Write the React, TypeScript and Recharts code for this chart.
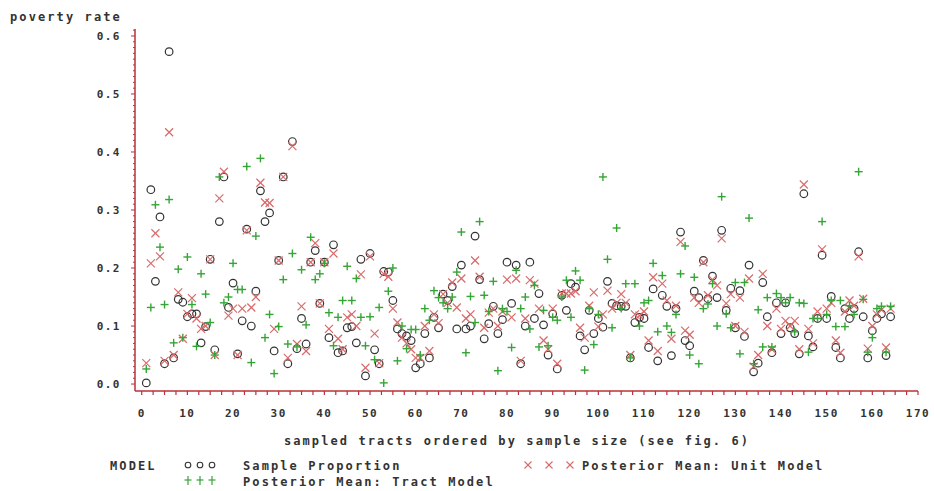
import { ScatterChart, Scatter, XAxis, YAxis } from "recharts"

// sampled tracts, ordered by sample size (x = position in that order)
const sampleProportion = [
  0.002, 0.335, 0.177, 0.288, 0.035, 0.573, 0.045, 0.146, 0.141, 0.116,
  0.121, 0.121, 0.071, 0.099, 0.215, 0.059, 0.28, 0.357, 0.132, 0.174,
  0.052, 0.109, 0.267, 0.1, 0.16, 0.333, 0.28, 0.295, 0.057, 0.213,
  0.357, 0.035, 0.418, 0.061, 0.113, 0.069, 0.21, 0.23, 0.139, 0.21,
  0.08, 0.24, 0.054, 0.057, 0.097, 0.099, 0.071, 0.215, 0.014, 0.225,
  0.059, 0.035, 0.194, 0.193, 0.144, 0.095, 0.087, 0.083, 0.075, 0.028,
  0.035, 0.087, 0.045, 0.115, 0.097, 0.155, 0.144, 0.168, 0.095, 0.205,
  0.095, 0.1, 0.255, 0.18, 0.078, 0.104, 0.134, 0.087, 0.111, 0.21,
  0.139, 0.205, 0.035, 0.1, 0.21, 0.113, 0.156, 0.102, 0.05, 0.121,
  0.026, 0.153, 0.127, 0.173, 0.167, 0.083, 0.059, 0.127, 0.087, 0.113,
  0.098, 0.177, 0.139, 0.135, 0.134, 0.134, 0.045, 0.106, 0.115, 0.113,
  0.063, 0.164, 0.04, 0.153, 0.134, 0.049, 0.13, 0.262, 0.075, 0.066,
  0.16, 0.149, 0.213, 0.147, 0.186, 0.149, 0.265, 0.127, 0.165, 0.097,
  0.161, 0.082, 0.205, 0.021, 0.036, 0.175, 0.116, 0.054, 0.14, 0.087,
  0.14, 0.097, 0.087, 0.052, 0.328, 0.083, 0.064, 0.113, 0.222, 0.113,
  0.151, 0.063, 0.045, 0.13, 0.113, 0.13, 0.228, 0.116, 0.045, 0.092,
  0.113, 0.121, 0.049, 0.116,
]
const unitModel = [
  0.036, 0.208, 0.26, 0.22, 0.04, 0.434, 0.05, 0.158, 0.078, 0.121,
  0.148, 0.113, 0.095, 0.1, 0.215, 0.05, 0.32, 0.366, 0.118, 0.13,
  0.05, 0.13, 0.265, 0.132, 0.15, 0.347, 0.313, 0.312, 0.095, 0.213,
  0.357, 0.045, 0.41, 0.069, 0.134, 0.057, 0.21, 0.243, 0.139, 0.21,
  0.095, 0.225, 0.078, 0.06, 0.115, 0.12, 0.1, 0.189, 0.028, 0.22,
  0.087, 0.036, 0.19, 0.185, 0.13, 0.106, 0.08, 0.07, 0.06, 0.045,
  0.045, 0.1, 0.057, 0.12, 0.105, 0.155, 0.14, 0.175, 0.132, 0.182,
  0.113, 0.12, 0.213, 0.185, 0.097, 0.123, 0.13, 0.1, 0.125, 0.18,
  0.115, 0.182, 0.04, 0.113, 0.179, 0.173, 0.13, 0.075, 0.06, 0.13,
  0.035, 0.156, 0.156, 0.156, 0.16, 0.097, 0.08, 0.135, 0.158, 0.099,
  0.12, 0.161, 0.13, 0.14, 0.155, 0.14, 0.05, 0.12, 0.118, 0.125,
  0.075, 0.184, 0.057, 0.173, 0.144, 0.078, 0.135, 0.245, 0.092, 0.085,
  0.149, 0.14, 0.21, 0.153, 0.18, 0.17, 0.251, 0.139, 0.155, 0.1,
  0.149, 0.09, 0.182, 0.03, 0.05, 0.19, 0.1, 0.06, 0.13, 0.095,
  0.109, 0.1, 0.109, 0.06, 0.344, 0.095, 0.07, 0.125, 0.232, 0.13,
  0.14, 0.075, 0.054, 0.125, 0.144, 0.135, 0.22, 0.147, 0.061, 0.1,
  0.12, 0.128, 0.063, 0.13,
]
const tractModel = [
  0.026, 0.132, 0.309, 0.236, 0.137, 0.318, 0.071, 0.198, 0.08, 0.219,
  0.137, 0.065, 0.19, 0.155, 0.106, 0.05, 0.357, 0.14, 0.15, 0.208,
  0.163, 0.163, 0.375, 0.037, 0.255, 0.389, 0.08, 0.12, 0.018, 0.099,
  0.18, 0.069, 0.225, 0.064, 0.197, 0.102, 0.253, 0.18, 0.19, 0.208,
  0.123, 0.066, 0.115, 0.144, 0.203, 0.144, 0.182, 0.115, 0.066, 0.116,
  0.042, 0.132, 0.002, 0.16, 0.2, 0.04, 0.1, 0.061, 0.094, 0.094,
  0.05, 0.13, 0.11, 0.161, 0.149, 0.14, 0.13, 0.15, 0.193, 0.262,
  0.054, 0.151, 0.106, 0.28, 0.153, 0.125, 0.177, 0.023, 0.13, 0.125,
  0.063, 0.196, 0.13, 0.15, 0.095, 0.17, 0.064, 0.127, 0.066, 0.115,
  0.11, 0.15, 0.179, 0.115, 0.195, 0.179, 0.024, 0.13, 0.068, 0.12,
  0.357, 0.215, 0.097, 0.269, 0.13, 0.173, 0.045, 0.173, 0.1, 0.14,
  0.144, 0.208, 0.09, 0.187, 0.1, 0.089, 0.12, 0.19, 0.238, 0.05,
  0.184, 0.035, 0.13, 0.138, 0.173, 0.1, 0.323, 0.121, 0.097, 0.175,
  0.052, 0.175, 0.286, 0.035, 0.128, 0.064, 0.149, 0.064, 0.156, 0.149,
  0.14, 0.149, 0.09, 0.14, 0.139, 0.055, 0.113, 0.113, 0.28, 0.12,
  0.144, 0.099, 0.144, 0.099, 0.135, 0.12, 0.366, 0.146, 0.055, 0.08,
  0.13, 0.134, 0.055, 0.134,
]

const xTicks = Array.from({ length: 69 }, (_, i) => i * 2.5)
const yTicks = Array.from({ length: 62 }, (_, i) => i / 100)

const AXIS = "#b8323a"
const FONT = "'DejaVu Sans Mono', monospace"

const rows = (vals: number[]) => vals.map((v, i) => ({ x: i + 1, y: v }))

const Ring = (p: any) => <circle cx={p.cx} cy={p.cy} r={3.8} fill="none" stroke="#333" strokeWidth={1.2} />
const Cross = (p: any) => (
  <g stroke="#d86a6a" strokeWidth={1.2}>
    <line x1={p.cx - 4} y1={p.cy - 4} x2={p.cx + 4} y2={p.cy + 4} />
    <line x1={p.cx - 4} y1={p.cy + 4} x2={p.cx + 4} y2={p.cy - 4} />
  </g>
)
const Plus = (p: any) => (
  <g stroke="#35a535" strokeWidth={1.4}>
    <line x1={p.cx - 4} y1={p.cy} x2={p.cx + 4} y2={p.cy} />
    <line x1={p.cx} y1={p.cy - 4} x2={p.cx} y2={p.cy + 4} />
  </g>
)

function XTick(p: any) {
  const v = p.payload.value
  return (
    <g>
      <line x1={p.x} y1={391} x2={p.x} y2={395} stroke={AXIS} strokeWidth={1.2} />
      {v % 10 === 0 && (
        <text x={p.x} y={417} textAnchor="middle" fontFamily={FONT} fontWeight="bold" fontSize={11} letterSpacing={1.5} fill="#333">
          {v}
        </text>
      )}
    </g>
  )
}

function YTick(p: any) {
  const v = p.payload.value
  const major = Math.round(v * 100) % 10 === 0
  return (
    <g>
      <line x1={major ? 131 : 133} y1={p.y} x2={135} y2={p.y} stroke={AXIS} strokeWidth={1} />
      {major && (
        <text x={121} y={p.y + 4} textAnchor="end" fontFamily={FONT} fontWeight="bold" fontSize={11} letterSpacing={1.5} fill="#333">
          {v.toFixed(1)}
        </text>
      )}
    </g>
  )
}

const label = { fontFamily: FONT, fontWeight: "bold" as const, fontSize: 12, letterSpacing: 2.1, fill: "#333" }

export default function App() {
  return (
    <div style={{ position: "absolute", left: 0, top: 0, width: 934, height: 491, background: "#fff" }}>
      <ScatterChart width={934} height={491} margin={{ top: 29, right: 16, bottom: 0, left: 0 }}>
        <XAxis type="number" dataKey="x" domain={[-1.47, 170]} ticks={xTicks} interval={0}
          height={100} axisLine={{ stroke: AXIS, strokeWidth: 1.5 }} tickLine={false} tick={<XTick />} allowDataOverflow />
        <YAxis type="number" dataKey="y" domain={[-0.012, 0.612]} ticks={yTicks} interval={0}
          width={135} axisLine={{ stroke: AXIS, strokeWidth: 1.5 }} tickLine={false} tick={<YTick />} allowDataOverflow />
        <Scatter data={rows(sampleProportion)} shape={Ring} isAnimationActive={false} />
        <Scatter data={rows(unitModel)} shape={Cross} isAnimationActive={false} />
        <Scatter data={rows(tractModel)} shape={Plus} isAnimationActive={false} />
      </ScatterChart>
      <svg width={934} height={491} style={{ position: "absolute", left: 0, top: 0, pointerEvents: "none" }}>
        <text x={10} y={21} {...label}>poverty rate</text>
        <text x={517} y={445} textAnchor="middle" {...label}>sampled tracts ordered by sample size (see fig. 6)</text>
        <text x={110} y={470} {...label}>MODEL</text>
        {[188, 200, 212].map(x => <circle key={x} cx={x} cy={465} r={2.8} fill="none" stroke="#333" strokeWidth={1.1} />)}
        <text x={243} y={470} {...label}>Sample Proportion</text>
        {[528, 549, 570].map(x => (
          <g key={x} stroke="#d86a6a" strokeWidth={1.1}>
            <line x1={x - 3.5} y1={461.5} x2={x + 3.5} y2={468.5} />
            <line x1={x - 3.5} y1={468.5} x2={x + 3.5} y2={461.5} />
          </g>
        ))}
        <text x={582} y={470} {...label}>Posterior Mean: Unit Model</text>
        {[188, 200, 212].map(x => (
          <g key={x} stroke="#35a535" strokeWidth={1.2}>
            <line x1={x - 3.5} y1={480} x2={x + 3.5} y2={480} />
            <line x1={x} y1={476} x2={x} y2={485} />
          </g>
        ))}
        <text x={243} y={486} {...label}>Posterior Mean: Tract Model</text>
      </svg>
    </div>
  )
}
